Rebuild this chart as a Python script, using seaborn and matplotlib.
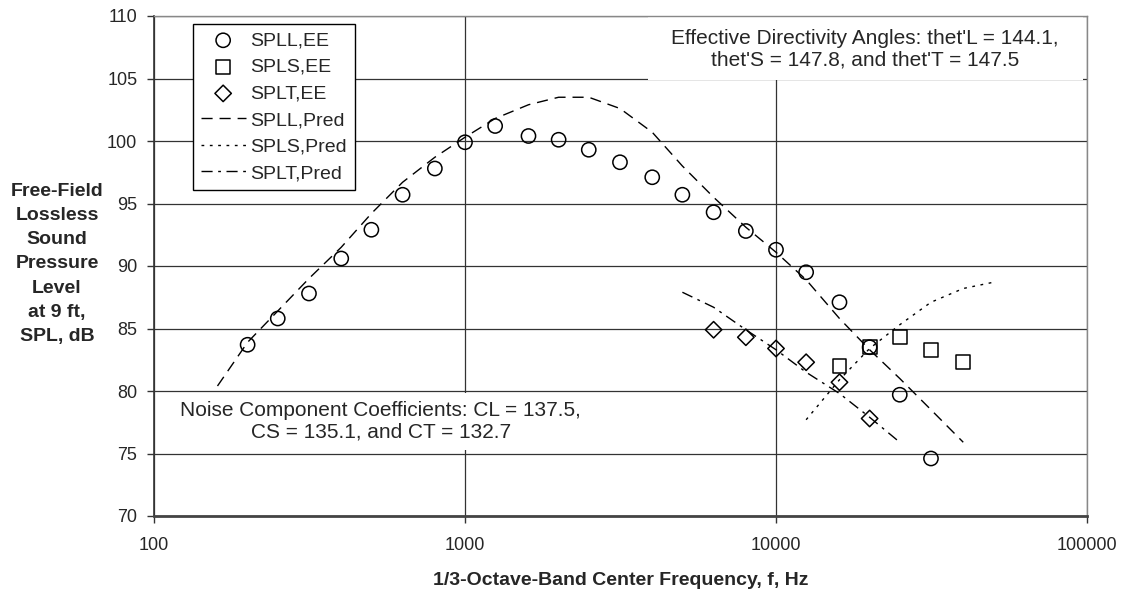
# Free-field lossless SPL vs 1/3-octave-band frequency
import numpy as np
import pandas as pd
import seaborn as sns
import matplotlib.pyplot as plt
from matplotlib.patches import Rectangle

# measured (EE) points
f_spll_ee = [200, 250, 315, 400, 500, 630, 800, 1000, 1250, 1600, 2000, 2500, 3150,
             4000, 5000, 6300, 8000, 10000, 12500, 16000, 20000, 25000, 31500]
spll_ee = [83.7, 85.8, 87.8, 90.6, 92.9, 95.7, 97.8, 99.9, 101.2, 100.4, 100.1, 99.3, 98.3,
           97.1, 95.7, 94.3, 92.8, 91.3, 89.5, 87.1, 83.5, 79.7, 74.6]

f_spls_ee = [16000, 20000, 25000, 31500, 40000]
spls_ee = [82.0, 83.5, 84.3, 83.3, 82.3]

f_splt_ee = [6300, 8000, 10000, 12500, 16000, 20000]
splt_ee = [84.9, 84.3, 83.4, 82.3, 80.7, 77.8]

# predicted curves
f_spll_pred = [160, 200, 250, 315, 400, 500, 630, 800, 1000, 1250, 1600, 2000, 2500, 3150,
               4000, 5000, 6300, 8000, 10000, 12500, 16000, 20000, 25000, 31500, 40000]
spll_pred = [80.4, 83.9, 86.4, 89.0, 91.5, 94.2, 96.7, 98.7, 100.3, 101.8, 102.9, 103.5, 103.5, 102.6,
             100.7, 98.0, 95.5, 93.1, 91.1, 88.9, 85.8, 83.3, 81.0, 78.5, 75.9]

f_spls_pred = [12500, 16000, 20000, 25000, 31500, 40000, 50000]
spls_pred = [77.7, 80.9, 83.4, 85.3, 87.1, 88.2, 88.7]

f_splt_pred = [5000, 6300, 8000, 10000, 12500, 16000, 20000, 25000]
splt_pred = [87.9, 86.7, 84.9, 83.3, 81.5, 79.8, 77.9, 75.9]

sns.set_style('white')
plt.rcParams['font.family'] = ['Liberation Sans', 'DejaVu Sans']

fig = plt.figure(figsize=(11.46, 5.93), dpi=100)
ax = fig.add_axes([154/1146, 1-516/593, 933/1146, 500/593])

mk = dict(facecolor='none', edgecolor='black', linewidth=1.1, zorder=3)
sns.scatterplot(x=f_spll_ee, y=spll_ee, marker='o', s=105, label='SPLL,EE', ax=ax, **mk)
sns.scatterplot(x=f_spls_ee, y=spls_ee, marker='s', s=100, label='SPLS,EE', ax=ax, **mk)
sns.scatterplot(x=f_splt_ee, y=splt_ee, marker='D', s=70, label='SPLT,EE', ax=ax, **mk)

ln = dict(color='black', linewidth=1.0, zorder=2)
sns.lineplot(x=f_spll_pred, y=spll_pred, label='SPLL,Pred', ax=ax, **ln)
ax.lines[-1].set_dashes((8, 5))
sns.lineplot(x=f_spls_pred, y=spls_pred, label='SPLS,Pred', ax=ax, **ln)
ax.lines[-1].set_dashes((2, 4))
sns.lineplot(x=f_splt_pred, y=splt_pred, label='SPLT,Pred', ax=ax, **ln)
ax.lines[-1].set_dashes((8, 4, 2, 4))

ax.set_xscale('log')
ax.set_xlim(100, 100000)
ax.set_ylim(70, 110)
ax.set_yticks(np.arange(70, 111, 5))
ax.set_xticks([100, 1000, 10000, 100000])
ax.set_xticklabels(['100', '1000', '10000', '100000'])
ax.minorticks_off()
ax.grid(True, color='#333333', linewidth=0.9)
ax.set_axisbelow(True)
ax.tick_params(axis='both', direction='out', length=5, width=1, color='#333333',
               labelsize=13, left=True, bottom=True)
ax.tick_params(axis='y', pad=7)
ax.tick_params(axis='x', pad=10)

for s in ['top', 'right']:
    ax.spines[s].set_color('#888888')
    ax.spines[s].set_linewidth(1.0)
ax.spines['left'].set_color('#333333')
ax.spines['left'].set_linewidth(1.2)
ax.spines['bottom'].set_color('#444444')
ax.spines['bottom'].set_linewidth(2.0)

# white boxes behind the notes
ax.add_patch(Rectangle((0.529, 0.872), 0.467, 0.128, transform=ax.transAxes,
                       facecolor='white', edgecolor='none', zorder=1))
ax.add_patch(Rectangle((0.006, 0.132), 0.472, 0.114, transform=ax.transAxes,
                       facecolor='white', edgecolor='none', zorder=1))
ax.text(0.762, 0.934, "Effective Directivity Angles: thet'L = 144.1,\nthet'S = 147.8, and thet'T = 147.5",
        transform=ax.transAxes, ha='center', va='center', fontsize=15, zorder=4)
ax.text(0.243, 0.19, 'Noise Component Coefficients: CL = 137.5,\nCS = 135.1, and CT = 132.7',
        transform=ax.transAxes, ha='center', va='center', fontsize=15, zorder=4)

ax.set_xlabel('1/3-Octave-Band Center Frequency, f, Hz', fontsize=14, fontweight='bold', labelpad=13)
ax.set_ylabel('')
fig.text(57/1146, 1-264/593, 'Free-Field\nLossless\nSound\nPressure\nLevel\nat 9 ft,\nSPL, dB',
         ha='center', va='center', fontsize=14, fontweight='bold', linespacing=1.55)

leg = ax.legend(loc='upper left', bbox_to_anchor=(193/1146, 1-24/593), bbox_transform=fig.transFigure,
                fontsize=14, frameon=True, fancybox=False, framealpha=1, edgecolor='black',
                handlelength=2.3, labelspacing=0.46, borderpad=0.4, handletextpad=0.25, borderaxespad=0)
leg.get_frame().set_linewidth(1.0)

plt.savefig('out.png', dpi=100)
